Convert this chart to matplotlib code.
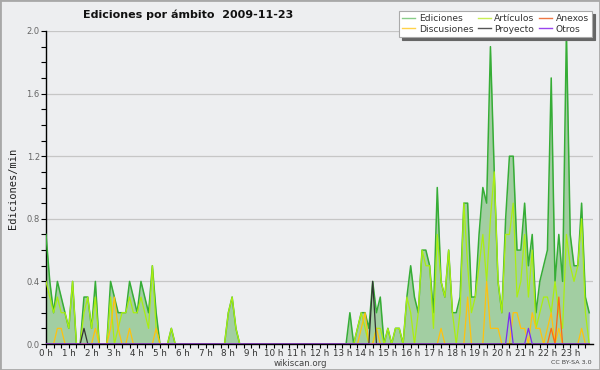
import numpy as np
import matplotlib
matplotlib.use('Agg')
import matplotlib.pyplot as plt
from matplotlib.lines import Line2D
from matplotlib.patches import Rectangle

# edits per minute, one value per 10-minute slot (6 per hour)
ediciones = [
    0.7, 0.4, 0.2, 0.4, 0.3, 0.2,   # 0 h
    0.1, 0.4, 0.0, 0.0, 0.3, 0.3,   # 1 h
    0.1, 0.4, 0.0, 0.0, 0.0, 0.4,   # 2 h
    0.3, 0.2, 0.2, 0.2, 0.4, 0.3,   # 3 h
    0.2, 0.4, 0.3, 0.2, 0.5, 0.2,   # 4 h
    0.0, 0.0, 0.0, 0.1, 0.0, 0.0,   # 5 h
    0.0, 0.0, 0.0, 0.0, 0.0, 0.0,   # 6 h
    0.0, 0.0, 0.0, 0.0, 0.0, 0.0,   # 7 h
    0.2, 0.3, 0.1, 0.0, 0.0, 0.0,   # 8 h
    0.0, 0.0, 0.0, 0.0, 0.0, 0.0,   # 9 h
    0.0, 0.0, 0.0, 0.0, 0.0, 0.0,   # 10 h
    0.0, 0.0, 0.0, 0.0, 0.0, 0.0,   # 11 h
    0.0, 0.0, 0.0, 0.0, 0.0, 0.0,   # 12 h
    0.0, 0.0, 0.2, 0.0, 0.1, 0.2,   # 13 h
    0.2, 0.1, 0.4, 0.2, 0.3, 0.0,   # 14 h
    0.1, 0.0, 0.1, 0.1, 0.0, 0.3,   # 15 h
    0.5, 0.3, 0.2, 0.6, 0.6, 0.5,   # 16 h
    0.2, 1.0, 0.4, 0.3, 0.6, 0.2,   # 17 h
    0.2, 0.3, 0.9, 0.9, 0.3, 0.3,   # 18 h
    0.7, 1.0, 0.9, 1.9, 1.1, 0.4,   # 19 h
    0.2, 0.8, 1.2, 1.2, 0.6, 0.6,   # 20 h
    0.9, 0.5, 0.7, 0.2, 0.4, 0.5,   # 21 h
    0.6, 1.7, 0.4, 0.7, 0.4, 2.0,   # 22 h
    0.7, 0.5, 0.5, 0.9, 0.3, 0.2,   # 23 h
]

articulos = [
    0.4, 0.3, 0.2, 0.3, 0.2, 0.2,
    0.1, 0.4, 0.0, 0.0, 0.2, 0.3,
    0.1, 0.3, 0.0, 0.0, 0.0, 0.3,
    0.0, 0.1, 0.2, 0.2, 0.3, 0.2,
    0.2, 0.3, 0.2, 0.1, 0.5, 0.1,
    0.0, 0.0, 0.0, 0.1, 0.0, 0.0,
    0.0, 0.0, 0.0, 0.0, 0.0, 0.0,
    0.0, 0.0, 0.0, 0.0, 0.0, 0.0,
    0.2, 0.3, 0.1, 0.0, 0.0, 0.0,
    0.0, 0.0, 0.0, 0.0, 0.0, 0.0,
    0.0, 0.0, 0.0, 0.0, 0.0, 0.0,
    0.0, 0.0, 0.0, 0.0, 0.0, 0.0,
    0.0, 0.0, 0.0, 0.0, 0.0, 0.0,
    0.0, 0.0, 0.0, 0.0, 0.1, 0.2,
    0.1, 0.0, 0.0, 0.1, 0.1, 0.0,
    0.1, 0.0, 0.1, 0.1, 0.0, 0.3,
    0.2, 0.0, 0.2, 0.6, 0.5, 0.5,
    0.1, 0.7, 0.4, 0.3, 0.6, 0.2,
    0.0, 0.2, 0.9, 0.5, 0.2, 0.3,
    0.5, 0.7, 0.4, 0.8, 1.1, 0.4,
    0.2, 0.7, 0.7, 0.9, 0.3, 0.4,
    0.7, 0.3, 0.6, 0.1, 0.2, 0.3,
    0.3, 0.2, 0.4, 0.2, 0.1, 0.7,
    0.5, 0.4, 0.5, 0.8, 0.2, 0.0,
]

# sparse series: {10-minute slot: value}
discusiones = {3: 0.1, 4: 0.1, 13: 0.1, 17: 0.1, 18: 0.3, 19: 0.1, 22: 0.1,
               29: 0.1, 83: 0.1, 84: 0.2, 87: 0.1, 104: 0.1, 111: 0.3,
               116: 0.4, 117: 0.1, 118: 0.1, 119: 0.1, 123: 0.2, 124: 0.2,
               125: 0.1, 126: 0.1, 128: 0.2, 129: 0.1, 130: 0.1, 132: 0.1,
               133: 0.2, 135: 0.1, 141: 0.1}
anexos = {133: 0.1, 135: 0.3}
proyecto = {10: 0.1, 86: 0.4}
otros = {122: 0.2, 127: 0.1}

hour_labels = ['%d h' % h for h in range(24)]
y_ticks = [0.0, 0.4, 0.8, 1.2, 1.6, 2.0]


def dense(d):
    arr = np.zeros(len(ediciones))
    for k, v in d.items():
        arr[k] = v
    return arr


bg = '#edeef0'
fig = plt.figure(figsize=(6, 3.7), dpi=100)
fig.patch.set_facecolor(bg)
ax = fig.add_axes([46/600, 1-344/370, 547/600, 313/370])
ax.set_facecolor(bg)

x = np.arange(len(ediciones)) / 6.0

ax.fill_between(x, ediciones, color='#a2cea2', lw=0, zorder=1)
ax.plot(x, ediciones, color='#36ad36', lw=1.1, zorder=3)
ax.plot(x, articulos, color='#aaee11', lw=0.9, zorder=3)
ax.plot(x, dense(discusiones), color='#ffc20e', lw=0.9, zorder=3)
ax.plot(x, dense(anexos), color='#ff6a10', lw=0.9, zorder=3)
ax.plot(x, dense(proyecto), color='#333333', lw=0.9, zorder=3)
ax.plot(x, dense(otros), color='#7a2cf0', lw=0.9, zorder=3)

ax.set_xlim(0, 24)
ax.set_ylim(0, 2.0)
ax.set_xticks(range(24))
ax.set_xticklabels(hour_labels)
ax.set_xticks(np.arange(0, 24, 1/3.), minor=True)
ax.set_yticks(y_ticks)
ax.set_yticklabels(['%.1f' % v for v in y_ticks])
ax.set_yticks(np.arange(0, 2.01, 0.1), minor=True)

ax.tick_params(axis='x', which='both', direction='out', length=3, width=0.8,
               labelsize=6.3, pad=0.5, labelcolor='#333333')
ax.tick_params(axis='y', which='both', direction='out', length=3.5, width=0.8,
               labelsize=6, pad=1, labelcolor='#666666')

ax.spines['top'].set_visible(False)
ax.spines['right'].set_visible(False)
ax.spines['left'].set_linewidth(1)
ax.spines['bottom'].set_linewidth(1)
ax.yaxis.grid(True, color='#c6c6c6', lw=0.9, zorder=0)
ax.set_axisbelow(True)

fig.text(188/600, 1-15/370, 'Ediciones por ámbito  2009-11-23',
         ha='center', va='center', fontsize=8, fontweight='bold', color='#111111')
fig.text(13/600, 1-188/370, 'Ediciones/min', rotation=90, ha='center', va='center',
         fontsize=7.5, family='DejaVu Sans Mono', color='#222222')
fig.text(300/600, 1-363/370, 'wikiscan.org', ha='center', va='center',
         fontsize=6.2, color='#444444')
fig.text(571/600, 1-363/370, 'CC BY-SA 3.0', ha='center', va='center',
         fontsize=4.6, color='#444444')

handles = [Line2D([], [], color='#88cc88', lw=1),
           Line2D([], [], color='#ffd24a', lw=1),
           Line2D([], [], color='#c8ee55', lw=1),
           Line2D([], [], color='#555555', lw=1),
           Line2D([], [], color='#ee7744', lw=1),
           Line2D([], [], color='#9944ee', lw=1)]
labels = ['Ediciones', 'Discusiones', 'Artículos', 'Proyecto', 'Anexos', 'Otros']
leg = fig.legend(handles, labels, ncol=3, loc='upper right',
                 bbox_to_anchor=(592/600, 1-11/370), fontsize=6.6,
                 frameon=True, fancybox=False, shadow={'color': '#666666', 'alpha': 1},
                 borderpad=0.35, labelspacing=0.15, handlelength=1.4,
                 handletextpad=0.4, columnspacing=0.5, borderaxespad=0)
leg.get_frame().set_edgecolor('#aaaaaa')
leg.get_frame().set_linewidth(0.8)
leg.get_frame().set_facecolor('white')
leg.get_frame().set_alpha(1)
for t in leg.get_texts():
    t.set_color('#333333')

fig.patches.append(Rectangle((0, 0), 1, 1, transform=fig.transFigure, fill=False,
                             edgecolor='#a8a8a8', lw=2))

fig.savefig('out.png', dpi=100, facecolor=bg)
